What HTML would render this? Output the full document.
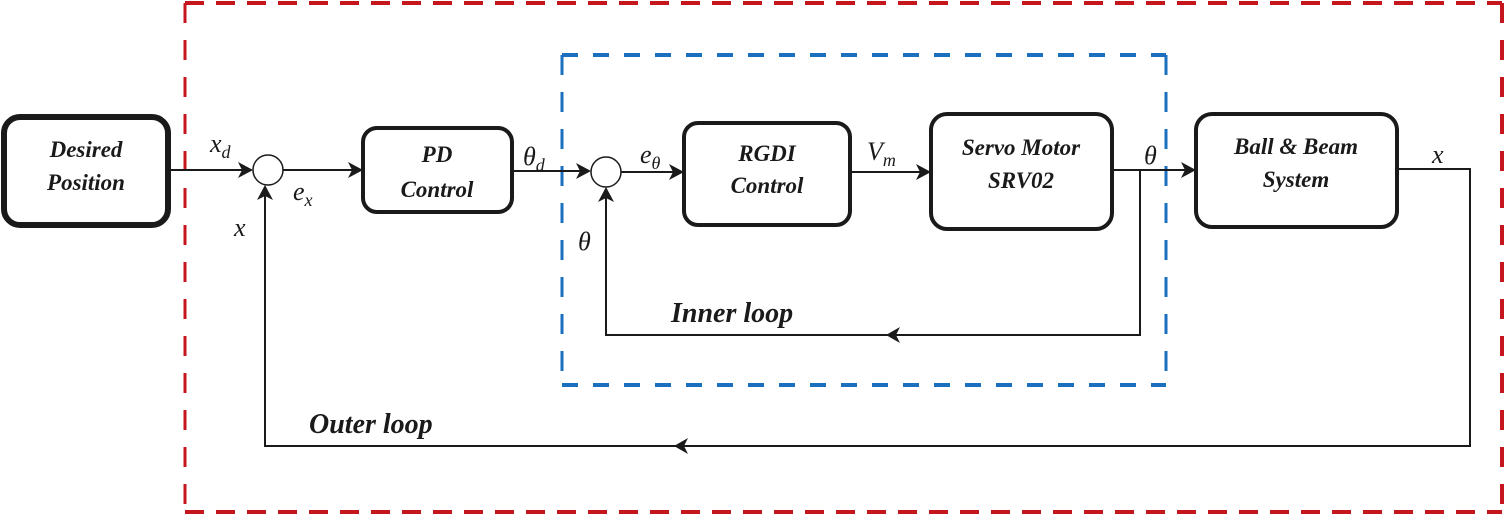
<!DOCTYPE html>
<html><head><meta charset="utf-8"><style>
html,body{margin:0;padding:0;background:#fff;}
svg{display:block}
.bt{font-family:"Liberation Serif",serif;font-weight:bold;font-style:italic;font-size:23px;fill:#1a1a1a;}
.m{font-family:"Liberation Serif",serif;font-style:italic;font-size:26px;fill:#1a1a1a;}
.s{font-size:18px;}
.lp{font-family:"Liberation Serif",serif;font-weight:bold;font-style:italic;font-size:28px;fill:#1a1a1a;}
</style></head><body>
<svg width="1505" height="516" viewBox="0 0 1505 516" xmlns="http://www.w3.org/2000/svg">
<!-- red dashed outer -->
<g stroke="#c4161c" stroke-width="4" fill="none">
<line x1="185" y1="3" x2="1502" y2="3" stroke-dasharray="19 12"/>
<line x1="185" y1="512" x2="1502" y2="512" stroke-dasharray="19 12"/>
<line x1="185" y1="3" x2="185" y2="512" stroke-width="3" stroke-dasharray="20 17"/>
<line x1="1502" y1="3" x2="1502" y2="512" stroke-dasharray="20 17"/>
</g>
<!-- blue dashed inner -->
<g stroke="#1a6fbf" stroke-width="4" fill="none">
<line x1="562" y1="55" x2="1166" y2="55" stroke-dasharray="16 15"/>
<line x1="562" y1="385" x2="1166" y2="385" stroke-dasharray="16 15"/>
<line x1="562" y1="55" x2="562" y2="385" stroke-width="3" stroke-dasharray="20 17"/>
<line x1="1166" y1="55" x2="1166" y2="385" stroke-width="3" stroke-dasharray="20 17"/>
</g>
<!-- boxes -->
<g fill="#fff" stroke="#1a1a1a">
<rect x="4" y="117" width="164" height="108" rx="16" stroke-width="6"/>
<rect x="363" y="128" width="149" height="84" rx="14" stroke-width="4"/>
<rect x="684" y="123" width="166" height="102" rx="14" stroke-width="4"/>
<rect x="931" y="114" width="181" height="115" rx="16" stroke-width="4"/>
<rect x="1196" y="114" width="201" height="113" rx="16" stroke-width="4"/>
<circle cx="268" cy="170" r="15" stroke-width="1.5"/>
<circle cx="606" cy="172" r="15" stroke-width="1.5"/>
</g>
<!-- connectors -->
<g stroke="#1a1a1a" stroke-width="2" fill="none">
<line x1="168" y1="170" x2="250" y2="170"/>
<line x1="283" y1="170" x2="360" y2="170"/>
<line x1="512" y1="171" x2="588" y2="171"/>
<line x1="621" y1="172" x2="681" y2="172"/>
<line x1="850" y1="172" x2="928" y2="172"/>
<line x1="1112" y1="170" x2="1193" y2="170"/>
<polyline points="1140,170 1140,335 606,335 606,190"/>
<polyline points="1397,169 1470,169 1470,446 265,446 265,188"/>
</g>
<!-- arrowheads -->
<g fill="#1a1a1a">
<path d="M253,170 L238,162 L242,170 L238,178 Z"/>
<path d="M363,170 L348,162 L352,170 L348,178 Z"/>
<path d="M591,171 L576,163 L580,171 L576,179 Z"/>
<path d="M684,172 L669,164 L673,172 L669,180 Z"/>
<path d="M931,172 L916,164 L920,172 L916,180 Z"/>
<path d="M1196,170 L1181,162 L1185,170 L1181,178 Z"/>
<path d="M606,187 L598,202 L606,198 L614,202 Z"/>
<path d="M265,185 L257,200 L265,196 L273,200 Z"/>
<path d="M886,335 L900,327 L896,335 L900,343 Z"/>
<path d="M674,446 L688,438 L684,446 L688,454 Z"/>
</g>
<!-- box text -->
<g class="bt" text-anchor="middle">
<text x="86" y="157">Desired</text><text x="86" y="190">Position</text>
<text x="437" y="162">PD</text><text x="437" y="197">Control</text>
<text x="767" y="161">RGDI</text><text x="767" y="193">Control</text>
<text x="1021" y="155">Servo Motor</text><text x="1021" y="188">SRV02</text>
<text x="1296" y="154">Ball &amp; Beam</text><text x="1296" y="187">System</text>
</g>
<!-- math labels -->
<text class="m" x="210" y="152">x<tspan class="s" dy="6">d</tspan></text>
<text class="m" x="293" y="200">e<tspan class="s" dy="6">x</tspan></text>
<text class="m" x="234" y="236">x</text>
<text class="m" x="523" y="165">θ<tspan class="s" dy="6">d</tspan></text>
<text class="m" x="640" y="163">e<tspan class="s" dy="6">θ</tspan></text>
<text class="m" x="578" y="250">θ</text>
<text class="m" x="867" y="160">V<tspan class="s" dy="6">m</tspan></text>
<text class="m" x="1144" y="164">θ</text>
<text class="m" x="1432" y="163">x</text>
<text class="lp" x="671" y="322">Inner loop</text>
<text class="lp" x="309" y="433">Outer loop</text>
</svg>
</body></html>
